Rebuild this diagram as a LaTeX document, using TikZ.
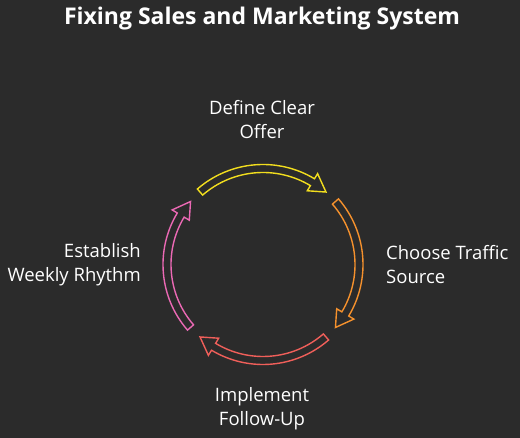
\documentclass[tikz,border=0pt]{standalone}
\usepackage{fontspec}
\setmainfont{Open Sans}
\definecolor{bgdark}{RGB}{43,43,43}
\definecolor{cyellow}{RGB}{242,222,30}
\definecolor{corange}{RGB}{245,145,45}
\definecolor{cred}{RGB}{240,95,90}
\definecolor{cpink}{RGB}{235,105,180}

\begin{document}
\begin{tikzpicture}[x=1pt,y=1pt,
  arcarrow/.style={line width=1.4pt, line join=miter, fill=bgdark},
  steplabel/.style={text=white, font=\fontsize{18.5}{24}\selectfont, align=center, inner sep=0pt}]
%\draw [lightgray, ultra thin] (0,0) grid (520,438);
\fill [bgdark] (0,0) rectangle (520,438);
\useasboundingbox (0,0) rectangle (520,438);

\node [text=white, font=\fontsize{23}{24}\selectfont\bfseries] (title) at (262,419) {Fixing Sales and Marketing System};

\coordinate (c) at (263,173.5);

\draw [arcarrow, draw=cyellow, shift={(c)}] (131:100) arc [start angle=131, end angle=59, radius=100]
  -- (59:106) -- (49:96) -- (59:86) -- (59:92) arc [start angle=59, end angle=131, radius=92] -- cycle;
\draw [arcarrow, draw=corange, shift={(c)}] (41:100) arc [start angle=41, end angle=-31, radius=100]
  -- (-31:106) -- (-41:96) -- (-31:86) -- (-31:92) arc [start angle=-31, end angle=41, radius=92] -- cycle;
\draw [arcarrow, draw=cred, shift={(c)}] (-49:100) arc [start angle=-49, end angle=-121, radius=100]
  -- (-121:106) -- (-131:96) -- (-121:86) -- (-121:92) arc [start angle=-121, end angle=-49, radius=92] -- cycle;
\draw [arcarrow, draw=cpink, shift={(c)}] (221:100) arc [start angle=221, end angle=149, radius=100]
  -- (149:106) -- (139:96) -- (149:86) -- (149:92) arc [start angle=149, end angle=221, radius=92] -- cycle;

\node [steplabel] (offer) at (262,318) {Define Clear\\Offer};
\node [steplabel, align=left, anchor=west] (traffic) at (386,173) {Choose Traffic\\Source};
\node [steplabel] (followup) at (262,29) {Implement\\Follow-Up};
\node [steplabel, align=right, anchor=east] (rhythm) at (141,173) {Establish\\Weekly Rhythm};
\end{tikzpicture}
\end{document}
